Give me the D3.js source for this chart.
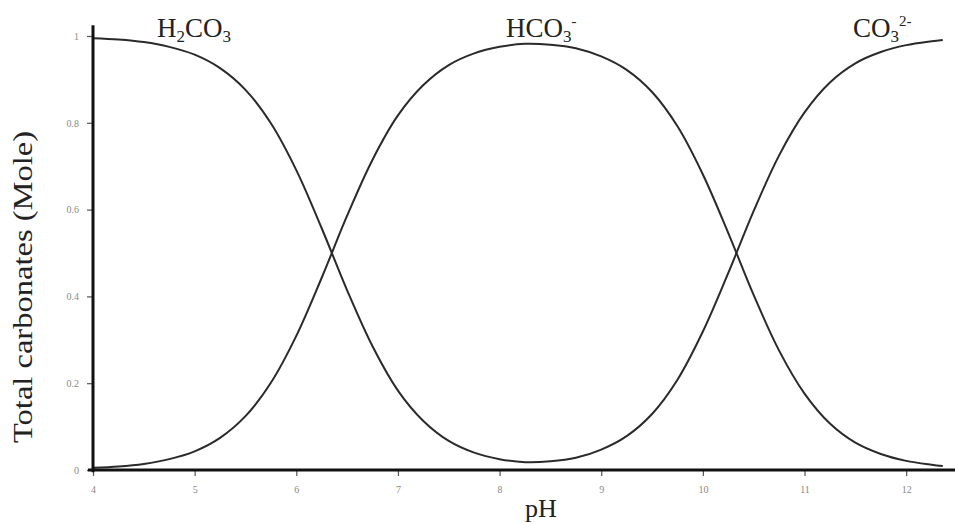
<!DOCTYPE html>
<html>
<head>
<meta charset="utf-8">
<script src="https://cdn.jsdelivr.net/npm/d3@7"></script>
<style>
  body { margin: 0; background: #fff; }
  text { font-family: 'Liberation Serif', 'Times New Roman', serif; }
</style>
</head>
<body>
<div class="chart"></div>
<script>
var width = 955;
var height = 523;

// pH points
var phValues = [4, 4.25, 4.5, 4.75, 5, 5.25, 5.5, 5.75, 6, 6.25, 6.5, 6.75, 7, 7.25, 7.5, 7.75,
  8, 8.25, 8.5, 8.75, 9, 9.25, 9.5, 9.75, 10, 10.25, 10.5, 10.75, 11, 11.25, 11.5, 11.75, 12, 12.25, 12.36];

// H2CO3 falling into CO3 2- rising (drawn as one U shaped line)
var acidCarbonate = [0.995, 0.992, 0.986, 0.975, 0.957, 0.926, 0.876, 0.799, 0.691, 0.557, 0.414, 0.285,
  0.183, 0.113, 0.067, 0.040, 0.025, 0.018, 0.020, 0.028, 0.047, 0.078, 0.129, 0.208, 0.319, 0.454,
  0.597, 0.725, 0.824, 0.893, 0.937, 0.963, 0.979, 0.988, 0.991];

// HCO3- bell
var bicarbonate = [0.005, 0.008, 0.014, 0.025, 0.043, 0.074, 0.124, 0.201, 0.309, 0.443, 0.586, 0.715,
  0.817, 0.887, 0.933, 0.960, 0.975, 0.982, 0.980, 0.972, 0.953, 0.922, 0.871, 0.792, 0.681, 0.546,
  0.403, 0.275, 0.176, 0.107, 0.063, 0.037, 0.021, 0.012, 0.009];

var xTicks = [4, 5, 6, 7, 8, 9, 10, 11, 12];
var yTicks = [0, 0.2, 0.4, 0.6, 0.8, 1];

var svg = d3.select('.chart')
  .append('svg')
  .attr('width', width)
  .attr('height', height);

var x = d3.scaleLinear().domain([4, 12.5]).range([93, 957]);
var y = d3.scaleLinear().domain([0, 1]).range([470, 36]);

var line = d3.line()
  .x(function(d){ return x(d[0]) })
  .y(function(d){ return y(d[1]) })
  .curve(d3.curveCatmullRom);

svg.append('path')
  .datum(d3.zip(phValues, acidCarbonate))
  .attr('d', line)
  .attr('fill', 'none')
  .attr('stroke', '#2a2a2a')
  .attr('stroke-width', 2);

svg.append('path')
  .datum(d3.zip(phValues, bicarbonate))
  .attr('d', line)
  .attr('fill', 'none')
  .attr('stroke', '#2a2a2a')
  .attr('stroke-width', 2);

// axes
var xAxis = svg.append('g')
  .attr('transform', 'translate(0,' + y(0) + ')')
  .call(d3.axisBottom(x).tickValues(xTicks).tickSize(6).tickPadding(10).tickFormat(d3.format('d')));

var yAxis = svg.append('g')
  .attr('transform', 'translate(' + x(4) + ',0)')
  .call(d3.axisLeft(y).tickValues(yTicks).tickSize(6).tickPadding(8).tickFormat(function(d){ return d === 0 || d === 1 ? d : d.toFixed(1) }));

[xAxis, yAxis].forEach(function(g){
  g.select('.domain').remove();
  g.selectAll('.tick line').attr('stroke', '#555').attr('stroke-width', 1.2);
  g.selectAll('.tick text')
    .attr('fill', '#888')
    .style('font-size', '10px')
    .style('font-family', "'Liberation Serif', serif");
});

svg.append('line')
  .attr('x1', x(4)).attr('x2', x(4))
  .attr('y1', y(-0.005)).attr('y2', y(1.025))
  .attr('stroke', '#111').attr('stroke-width', 3);

svg.append('line')
  .attr('x1', x(3.95)).attr('x2', x(12.5))
  .attr('y1', y(0)).attr('y2', y(0))
  .attr('stroke', '#111').attr('stroke-width', 3);

// axis titles
svg.append('text')
  .attr('x', 541).attr('y', 517)
  .attr('text-anchor', 'middle')
  .attr('fill', '#222')
  .style('font-size', '26px')
  .text('pH');

svg.append('text')
  .attr('transform', 'translate(32,287) rotate(-90)')
  .attr('text-anchor', 'middle')
  .attr('fill', '#222')
  .attr('textLength', 312)
  .attr('lengthAdjust', 'spacingAndGlyphs')
  .style('font-size', '27px')
  .text('Total carbonates (Mole)');

// species labels
function species(xPos, parts){
  var t = svg.append('text')
    .attr('x', xPos).attr('y', 37)
    .attr('fill', '#222')
    .style('font-size', '27px');
  parts.forEach(function(p){
    var s = t.append('tspan').text(p[0]);
    if (p[1] === 'sub') s.attr('dy', 5).style('font-size', '17px');
    if (p[1] === 'sup') s.attr('dy', -16).style('font-size', '15px');
    if (p[1] === 'base') s.attr('dy', p[2]);
  });
}

species(157, [['H'], ['2', 'sub'], ['CO', 'base', -5], ['3', 'sub']]);
species(506, [['HCO'], ['3', 'sub'], ['-', 'sup']]);
species(853, [['CO'], ['3', 'sub'], ['2-', 'sup']]);
</script>
</body>
</html>
